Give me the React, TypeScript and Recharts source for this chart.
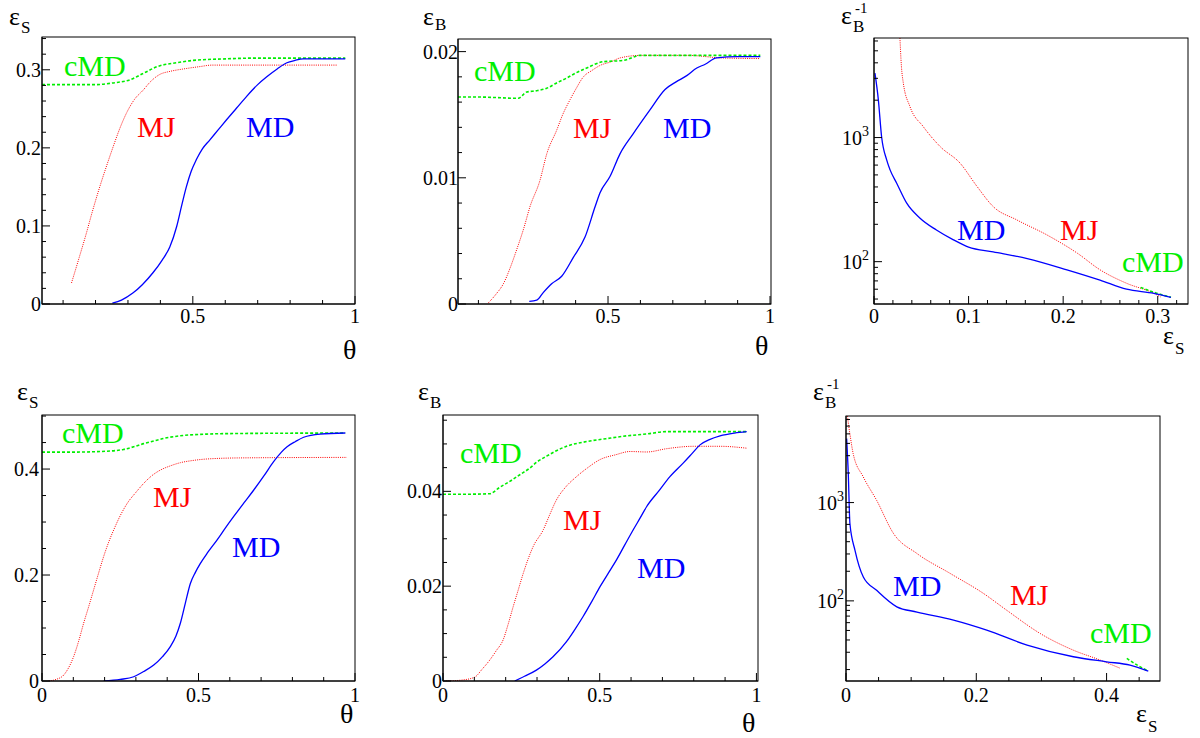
import { LineChart, Line, XAxis, YAxis } from 'recharts'

type Pt = [number, number]

// top row: efficiencies vs theta, and rejection vs signal efficiency
const mdSigTop: Pt[] = [
  [0.252, 0.001], [0.28, 0.005], [0.315, 0.014], [0.345, 0.025], [0.377, 0.04], [0.405, 0.056],
  [0.429, 0.073], [0.45, 0.099], [0.465, 0.125], [0.48, 0.15], [0.495, 0.17], [0.511, 0.185],
  [0.53, 0.199], [0.552, 0.21], [0.578, 0.223], [0.604, 0.236], [0.635, 0.251], [0.666, 0.266],
  [0.7, 0.281], [0.728, 0.291], [0.76, 0.301], [0.79, 0.309], [0.815, 0.312], [0.84, 0.314], [0.97, 0.314],
]
const mjSigTop: Pt[] = [
  [0.126, 0.027], [0.15, 0.06], [0.172, 0.091], [0.19, 0.118], [0.213, 0.15], [0.235, 0.178],
  [0.254, 0.201], [0.275, 0.225], [0.296, 0.245], [0.32, 0.262], [0.347, 0.274], [0.37, 0.285],
  [0.398, 0.294], [0.43, 0.298], [0.47, 0.301], [0.52, 0.304], [0.56, 0.306], [0.7, 0.306], [0.947, 0.306],
]
const cmdSigTop: Pt[] = [
  [0.035, 0.281], [0.1, 0.281], [0.2, 0.281], [0.25, 0.283], [0.305, 0.287], [0.35, 0.296],
  [0.39, 0.304], [0.45, 0.309], [0.5, 0.312], [0.6, 0.314], [0.7, 0.315], [0.8, 0.315], [0.97, 0.315],
]

const mdBkgTop: Pt[] = [
  [0.257, 0.0002], [0.28, 0.0003], [0.3, 0.0009], [0.326, 0.0016], [0.357, 0.0022], [0.393, 0.0037],
  [0.429, 0.0053], [0.46, 0.0077], [0.475, 0.0088], [0.506, 0.0101], [0.537, 0.0119], [0.578, 0.0135],
  [0.63, 0.0154], [0.676, 0.017], [0.71, 0.0176], [0.743, 0.0181], [0.774, 0.0187], [0.8, 0.019],
  [0.835, 0.0195], [0.9, 0.0196], [0.97, 0.0196],
]
const mjBkgTop: Pt[] = [
  [0.131, 0.0001], [0.155, 0.0008], [0.177, 0.0016], [0.2, 0.003], [0.218, 0.0043], [0.24, 0.006],
  [0.259, 0.0077], [0.29, 0.0098], [0.311, 0.0119], [0.342, 0.0138], [0.36, 0.015], [0.383, 0.0162],
  [0.4, 0.017], [0.424, 0.018], [0.45, 0.0185], [0.475, 0.0189], [0.51, 0.0192], [0.537, 0.0195],
  [0.6, 0.0197], [0.75, 0.0197], [0.85, 0.0195], [0.97, 0.01945],
]
const cmdBkgTop: Pt[] = [
  [0.037, 0.0164], [0.1, 0.0164], [0.223, 0.0163], [0.249, 0.0168], [0.28, 0.0169], [0.311, 0.0171],
  [0.34, 0.0175], [0.372, 0.0179], [0.4, 0.0183], [0.434, 0.0187], [0.485, 0.0192], [0.547, 0.0193],
  [0.6, 0.0197], [0.7, 0.0197], [0.97, 0.0197],
]

const mdRejTop: Pt[] = [
  [0.001, 3300], [0.0046, 2014], [0.008, 1019], [0.0134, 661], [0.017, 549], [0.024, 429], [0.0346, 296],
  [0.0487, 224], [0.066, 180], [0.084, 150], [0.1, 131], [0.126, 120], [0.162, 106], [0.204, 86],
  [0.239, 71], [0.267, 60], [0.296, 55.6], [0.314, 51.6],
]
const mjRejTop: Pt[] = [
  [0.027, 7500], [0.029, 3740], [0.031, 2748], [0.038, 1778], [0.052, 1227], [0.07, 845], [0.091, 622],
  [0.109, 403], [0.126, 278], [0.151, 217], [0.183, 164], [0.215, 117], [0.239, 86], [0.267, 67],
  [0.296, 55.6], [0.303, 52],
]
const cmdRejTop: Pt[] = [[0.282, 62], [0.298, 56], [0.314, 51.6]]

// bottom row
const mdSigBot: Pt[] = [
  [0.197, 0], [0.25, 0.003], [0.293, 0.008], [0.325, 0.018], [0.357, 0.03], [0.385, 0.046], [0.41, 0.065],
  [0.428, 0.085], [0.442, 0.109], [0.458, 0.147], [0.474, 0.184], [0.49, 0.205], [0.506, 0.222],
  [0.53, 0.243], [0.559, 0.266], [0.585, 0.288], [0.612, 0.31], [0.645, 0.336], [0.676, 0.36],
  [0.71, 0.388], [0.74, 0.414], [0.765, 0.432], [0.783, 0.442], [0.81, 0.452], [0.836, 0.46],
  [0.889, 0.466], [0.969, 0.468],
]
const mjSigBot: Pt[] = [
  [0.021, 0], [0.045, 0.003], [0.069, 0.011], [0.085, 0.025], [0.101, 0.046], [0.117, 0.075],
  [0.133, 0.109], [0.149, 0.14], [0.165, 0.172], [0.181, 0.204], [0.197, 0.235], [0.213, 0.262],
  [0.229, 0.285], [0.25, 0.312], [0.272, 0.335], [0.3, 0.356], [0.325, 0.373], [0.35, 0.387],
  [0.378, 0.398], [0.41, 0.406], [0.442, 0.412], [0.48, 0.416], [0.527, 0.419], [0.63, 0.421], [0.974, 0.422],
]
const cmdSigBot: Pt[] = [
  [0, 0.432], [0.1, 0.432], [0.218, 0.434], [0.26, 0.437], [0.293, 0.442], [0.325, 0.448], [0.357, 0.453],
  [0.39, 0.458], [0.431, 0.462], [0.527, 0.466], [0.612, 0.467], [0.969, 0.468],
]

const mdBkgBot: Pt[] = [
  [0.229, 0], [0.26, 0.001], [0.298, 0.0023], [0.325, 0.0036], [0.351, 0.0051], [0.394, 0.0083],
  [0.42, 0.0108], [0.447, 0.0136], [0.475, 0.0168], [0.501, 0.0199], [0.528, 0.0228], [0.554, 0.0256],
  [0.58, 0.0287], [0.607, 0.0319], [0.63, 0.0345], [0.65, 0.0368], [0.69, 0.0402], [0.724, 0.0431],
  [0.767, 0.046], [0.795, 0.048], [0.82, 0.0498], [0.85, 0.0509], [0.884, 0.0517], [0.93, 0.0523], [0.969, 0.0526],
]
const mjBkgBot: Pt[] = [
  [0.01, 0], [0.06, 0.0002], [0.101, 0.0008], [0.125, 0.0025], [0.149, 0.0044], [0.17, 0.0064],
  [0.192, 0.0087], [0.208, 0.012], [0.224, 0.0157], [0.24, 0.0192], [0.256, 0.0227], [0.272, 0.0258],
  [0.288, 0.0284], [0.32, 0.0319], [0.34, 0.035], [0.362, 0.0382], [0.39, 0.0408], [0.426, 0.0431],
  [0.46, 0.0449], [0.501, 0.0467], [0.55, 0.0477], [0.597, 0.0484], [0.65, 0.0483], [0.714, 0.049],
  [0.799, 0.0495], [0.884, 0.0495], [0.969, 0.0491],
]
const cmdBkgBot: Pt[] = [
  [0, 0.0394], [0.08, 0.0394], [0.149, 0.0395], [0.18, 0.0408], [0.213, 0.0421], [0.245, 0.0435],
  [0.277, 0.0449], [0.3, 0.0462], [0.33, 0.0474], [0.36, 0.0485], [0.394, 0.0495], [0.458, 0.0505],
  [0.52, 0.0511], [0.586, 0.0517], [0.65, 0.0521], [0.714, 0.0526], [0.82, 0.0526], [0.969, 0.0526],
]

const mdRejBot: Pt[] = [
  [0.001, 4470], [0.0035, 1972], [0.006, 612], [0.0138, 327], [0.0266, 175], [0.047, 128], [0.078, 87],
  [0.109, 77], [0.165, 63.6], [0.216, 50.3], [0.278, 35.5], [0.349, 27], [0.4, 24], [0.436, 22.2], [0.464, 19.3],
]
const mjRejBot: Pt[] = [
  [0.002, 8000], [0.0035, 6500], [0.006, 5000], [0.011, 3150], [0.0266, 1820], [0.047, 1055],
  [0.073, 484], [0.109, 303], [0.16, 190], [0.211, 119], [0.247, 80], [0.298, 46.6], [0.349, 31.5],
  [0.39, 25], [0.421, 20.6],
]
const cmdRejBot: Pt[] = [[0.431, 26], [0.448, 22], [0.464, 19.3]]

// tick labels
const thetaMajorsTop = [0.5, 1]
const thetaMajorsBot = [0, 0.5, 1]
const sigMajorsTop = [0, 0.1, 0.2, 0.3]
const bkgMajorsTop = [0, 0.01, 0.02]
const effMajorsTop = [0, 0.1, 0.2, 0.3]
const sigMajorsBot = [0, 0.2, 0.4]
const bkgMajorsBot = [0, 0.02, 0.04]
const effMajorsBot = [0, 0.2, 0.4]
const logMajors = [100, 1000]
const logMinorsTop = [50, 60, 70, 80, 90, 200, 300, 400, 500, 600, 700, 800, 900, 2000, 3000, 4000, 5000, 6000]
const logMinorsBot = [20, 30, 40, 50, 60, 70, 80, 90, 200, 300, 400, 500, 600, 700, 800, 900, 2000, 3000, 4000, 5000, 6000, 7000]

const FONT = '"Liberation Serif", "DejaVu Serif", serif'
const BLUE = '#0000ff'
const RED = '#ff0000'
const GREEN = '#00ee00'

const pts = (a: Pt[]) => a.map(([x, y]) => ({ x, y }))

const range = (from: number, to: number, step: number) => {
  const out: number[] = []
  for (let k = 0; from + k * step <= to + 1e-9; k++) out.push(Number((from + k * step).toFixed(6)))
  return out
}

const merge = (a: number[], b: number[]) =>
  Array.from(new Set([...a, ...b].map((v) => Number(v.toFixed(6))))).sort((p, q) => p - q)

const isMajor = (majors: number[], v: number) => majors.some((m) => Math.abs(m - v) < 1e-9)

const xTick = (majors: number[], labelDy: number) => (props: any) => {
  const { x, y, payload } = props
  const major = isMajor(majors, payload.value)
  return (
    <g>
      <line x1={x} y1={y} x2={x} y2={y - (major ? 8 : 4)} stroke="#000" />
      {major && (
        <text x={x} y={y + labelDy} textAnchor="middle" fontFamily={FONT} fontSize={20} fill="#000">
          {String(payload.value)}
        </text>
      )}
    </g>
  )
}

const yTick = (majors: number[], log: boolean, gap: number) => (props: any) => {
  const { x, y, payload } = props
  const major = isMajor(majors, payload.value)
  return (
    <g>
      <line x1={x} y1={y} x2={x + (major ? 8 : 4)} y2={y} stroke="#000" />
      {major && !log && (
        <text x={x - gap} y={y + 7} textAnchor="end" fontFamily={FONT} fontSize={20} fill="#000">
          {String(payload.value)}
        </text>
      )}
      {major && log && (
        <text x={x - gap} y={y + 7} textAnchor="end" fontFamily={FONT} fontSize={20} fill="#000">
          10
          <tspan dy={-9} fontSize={14}>
            {Math.round(Math.log10(payload.value))}
          </tspan>
        </text>
      )}
    </g>
  )
}

interface PanelProps {
  left: number
  top: number
  w: number
  h: number
  xDomain: [number, number]
  yDomain: [number, number]
  xTicks: number[]
  xMajors: number[]
  yTicks: number[]
  yMajors: number[]
  labelDy: number
  gap: number
  log?: boolean
  md: Pt[]
  mj: Pt[]
  cmd: Pt[]
}

function Panel(p: PanelProps) {
  return (
    <div style={{ position: 'absolute', left: p.left - 60, top: p.top - 10 }}>
      <LineChart width={p.w + 70} height={p.h + 40} margin={{ top: 10, right: 10, left: 0, bottom: 0 }}>
        <XAxis
          dataKey="x"
          type="number"
          domain={p.xDomain}
          ticks={p.xTicks}
          interval={0}
          height={30}
          tickSize={0}
          tickMargin={0}
          tickLine={false}
          tick={xTick(p.xMajors, p.labelDy)}
          stroke="#000"
          allowDataOverflow
        />
        <YAxis
          type="number"
          scale={p.log ? 'log' : 'linear'}
          domain={p.yDomain}
          ticks={p.yTicks}
          interval={0}
          width={60}
          tickSize={0}
          tickMargin={0}
          tickLine={false}
          tick={yTick(p.yMajors, !!p.log, p.gap)}
          stroke="#000"
          allowDataOverflow
        />
        <Line data={pts(p.mj)} dataKey="y" type="monotone" stroke={RED} strokeWidth={1} strokeDasharray="1 1.2" dot={false} activeDot={false} isAnimationActive={false} />
        <Line data={pts(p.cmd)} dataKey="y" type="monotone" stroke={GREEN} strokeWidth={1.6} strokeDasharray="3 2" dot={false} activeDot={false} isAnimationActive={false} />
        <Line data={pts(p.md)} dataKey="y" type="monotone" stroke={BLUE} strokeWidth={1.3} dot={false} activeDot={false} isAnimationActive={false} />
      </LineChart>
      {/* frame around the plot area */}
      <svg width={p.w + 70} height={p.h + 40} style={{ position: 'absolute', left: 0, top: 0, pointerEvents: 'none' }}>
        <rect x={60} y={10} width={p.w} height={p.h} fill="none" stroke="#000" strokeWidth={1} />
      </svg>
    </div>
  )
}

// epsilon with subscript (and optional superscript)
function Sym({ x, y, sub, sup, subDy = 8, size = 26 }: { x: number; y: number; sub: string; sup?: string; subDy?: number; size?: number }) {
  return (
    <g fontFamily={FONT} fill="#000">
      <text x={x} y={y} fontSize={size}>ε</text>
      <text x={x + 12} y={y + subDy} fontSize={17}>{sub}</text>
      {sup && <text x={x + 14} y={y - 11} fontSize={15}>{sup}</text>}
    </g>
  )
}

function Tag({ x, y, color, children }: { x: number; y: number; color: string; children: string }) {
  return (
    <text x={x} y={y} fontFamily={FONT} fontSize={30} fill={color}>
      {children}
    </text>
  )
}

export default function App() {
  const thetaMinors = range(0.1, 0.9, 0.1)
  return (
    <div style={{ position: 'absolute', left: 0, top: 0, width: 1200, height: 738, background: '#fff' }}>
      <Panel left={42} top={37} w={313} h={267} xDomain={[0.035, 1]} yDomain={[0, 0.342]} labelDy={19} gap={1}
        xTicks={merge(thetaMajorsTop, thetaMinors)} xMajors={thetaMajorsTop}
        yTicks={merge(sigMajorsTop, range(0, 0.34, 0.02))} yMajors={sigMajorsTop}
        md={mdSigTop} mj={mjSigTop} cmd={cmdSigTop} />
      <Panel left={458} top={39} w={313} h={265} xDomain={[0.037, 1.003]} yDomain={[0, 0.021]} labelDy={19} gap={0}
        xTicks={merge(thetaMajorsTop, thetaMinors)} xMajors={thetaMajorsTop}
        yTicks={merge(bkgMajorsTop, range(0, 0.02, 0.002))} yMajors={bkgMajorsTop}
        md={mdBkgTop} mj={mjBkgTop} cmd={cmdBkgTop} />
      <Panel left={874} top={38} w={314} h={266} xDomain={[0, 0.332]} yDomain={[45.6, 6340]} log labelDy={19} gap={5}
        xTicks={merge(effMajorsTop, range(0, 0.32, 0.02))} xMajors={effMajorsTop}
        yTicks={merge(logMajors, logMinorsTop)} yMajors={logMajors}
        md={mdRejTop} mj={mjRejTop} cmd={cmdRejTop} />
      <Panel left={42} top={415} w={313} h={266} xDomain={[0, 1]} yDomain={[0, 0.502]} labelDy={21} gap={3}
        xTicks={merge(thetaMajorsBot, thetaMinors)} xMajors={thetaMajorsBot}
        yTicks={merge(sigMajorsBot, range(0, 0.5, 0.05))} yMajors={sigMajorsBot}
        md={mdSigBot} mj={mjSigBot} cmd={cmdSigBot} />
      <Panel left={443} top={415} w={315} h={266} xDomain={[0, 1.005]} yDomain={[0, 0.0561]} labelDy={21} gap={1}
        xTicks={merge(thetaMajorsBot, thetaMinors)} xMajors={thetaMajorsBot}
        yTicks={merge(bkgMajorsBot, range(0, 0.055, 0.005))} yMajors={bkgMajorsBot}
        md={mdBkgBot} mj={mjBkgBot} cmd={cmdBkgBot} />
      <Panel left={846} top={416} w={314} h={265} xDomain={[0, 0.482]} yDomain={[15.3, 7600]} log labelDy={21} gap={2}
        xTicks={merge(effMajorsBot, range(0, 0.45, 0.05))} xMajors={effMajorsBot}
        yTicks={merge(logMajors, logMinorsBot)} yMajors={logMajors}
        md={mdRejBot} mj={mjRejBot} cmd={cmdRejBot} />

      <svg width={1200} height={738} style={{ position: 'absolute', left: 0, top: 0, pointerEvents: 'none' }}>
        {/* axis titles */}
        <Sym x={9} y={25} sub="S" />
        <Sym x={423} y={25} sub="B" subDy={5} />
        <Sym x={841} y={24} sub="B" sup="-1" />
        <Sym x={17} y={400} sub="S" />
        <Sym x={418} y={400} sub="B" />
        <Sym x={813} y={400} sub="B" sup="-1" />
        <text x={343} y={359} fontFamily={FONT} fontSize={28}>θ</text>
        <text x={755} y={355} fontFamily={FONT} fontSize={28}>θ</text>
        <Sym x={1163} y={344} sub="S" subDy={10} />
        <text x={340} y={723} fontFamily={FONT} fontSize={28}>θ</text>
        <text x={742} y={732} fontFamily={FONT} fontSize={28}>θ</text>
        <Sym x={1136} y={722} sub="S" subDy={10} />

        {/* curve labels */}
        <Tag x={64} y={76} color={GREEN}>cMD</Tag>
        <Tag x={137} y={137} color={RED}>MJ</Tag>
        <Tag x={246} y={137} color={BLUE}>MD</Tag>
        <Tag x={474} y={81} color={GREEN}>cMD</Tag>
        <Tag x={573} y={138} color={RED}>MJ</Tag>
        <Tag x={663} y={138} color={BLUE}>MD</Tag>
        <Tag x={957} y={240} color={BLUE}>MD</Tag>
        <Tag x={1060} y={240} color={RED}>MJ</Tag>
        <Tag x={1122} y={272} color={GREEN}>cMD</Tag>
        <Tag x={62} y={443} color={GREEN}>cMD</Tag>
        <Tag x={153} y={507} color={RED}>MJ</Tag>
        <Tag x={232} y={557} color={BLUE}>MD</Tag>
        <Tag x={460} y={463} color={GREEN}>cMD</Tag>
        <Tag x={563} y={530} color={RED}>MJ</Tag>
        <Tag x={637} y={578} color={BLUE}>MD</Tag>
        <Tag x={893} y={596} color={BLUE}>MD</Tag>
        <Tag x={1010} y={605} color={RED}>MJ</Tag>
        <Tag x={1090} y={643} color={GREEN}>cMD</Tag>
      </svg>
    </div>
  )
}
